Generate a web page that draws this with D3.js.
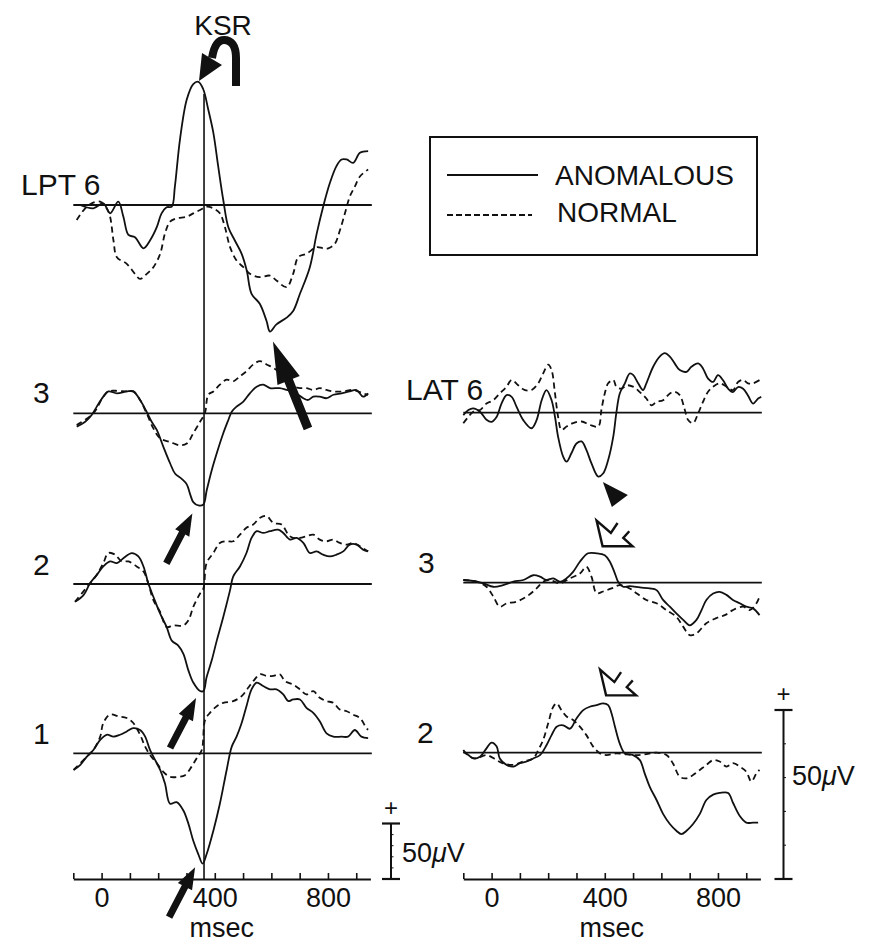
<!DOCTYPE html>
<html>
<head>
<meta charset="utf-8">
<script src="https://cdn.jsdelivr.net/npm/d3@7"></script>
<style>
  html, body { margin: 0; padding: 0; background: #fff; }
  svg { display: block; }
  text { font-family: "Liberation Sans", Arial, Helvetica, sans-serif; fill: #111; }
</style>
</head>
<body>
<svg id="chart" width="869" height="944"></svg>
<script>
// ---- data: [time (msec), amplitude (microvolts)] ----
const timeDomain = [-100, 950];
const tickTimes = [-100, 0, 100, 200, 300, 400, 500, 600, 700, 800, 900];
const tickLabels = [0, 400, 800];
const ksrTime = 362;
const scaleBarMicrovolts = 50;

const lpt6Anomalous = [[-76,0],[-29,-3],[6,1.5],[30,-7.5],[59,3],[77,-10.6],[95,-27],[118,-29],[148,-39],[171,-32],[195,-20],[212,-7.5],[230,-2],[248,-1.5],[259,16.6],[277,59],[301,95],[324,109],[342,111],[359,104.5],[377,86],[395,65],[412,35],[430,4.5],[448,-20],[471,-32],[495,-44],[513,-59],[530,-80],[559,-89],[583,-104.5],[595,-114],[618,-107.5],[654,-101.5],[677,-95.5],[701,-80],[736,-56],[760,-26],[783,-1.5],[807,20],[830,35],[848,41],[866,41],[889,38],[913,47],[942,48.5]];
const lpt6Normal = [[-88,-13.6],[-58,-3],[-35,1.5],[-5,3],[18,-3],[30,-10.6],[42,-32],[54,-47],[89,-53],[118,-62],[136,-66.6],[160,-62],[183,-56],[207,-44],[224,-25.7],[242,-15],[265,-12],[301,-10.6],[324,-7.5],[348,-4.5],[371,-1.5],[395,-3],[418,-7.5],[436,-20],[454,-38],[477,-50],[501,-56],[524,-62],[559,-65],[595,-63.6],[618,-68],[654,-74],[677,-62],[695,-47],[724,-44],[760,-38],[783,-39],[801,-39],[824,-35],[842,-23],[860,-7.5],[877,7.5],[895,16.6],[913,25.7],[942,32]];

const l3Anomalous = [[-88,-12],[-58,-7.6],[-35,-1.5],[-17,6],[6,15],[24,19.7],[54,18],[89,19.7],[112,19.7],[136,12],[159,1.5],[177,-7.6],[195,-15],[218,-30],[242,-45],[260,-54.5],[283,-59],[301,-64],[313,-73],[324,-80],[342,-83],[360,-82],[371,-70],[389,-51.5],[407,-36],[430,-18],[448,-6],[460,1.5],[477,6],[501,10.6],[524,18],[548,24],[571,25.8],[595,22.7],[630,22.7],[654,21],[677,19.7],[695,16.7],[713,13.6],[730,12],[748,15],[771,15],[795,13.6],[819,16.7],[848,18],[877,19.7],[901,21],[924,15],[942,18]];
const l3Normal = [[-88,-10.6],[-29,0],[6,15],[24,19.7],[48,20.3],[89,19.7],[112,19.7],[136,12],[159,0],[183,-13.6],[207,-22.7],[242,-25.8],[277,-28.8],[301,-27.3],[324,-18],[348,-7.6],[365,0],[377,16.7],[395,19.7],[418,25.8],[442,30.3],[465,28.8],[489,33.3],[512,37.9],[536,44],[560,47],[583,44],[607,41],[630,36.4],[654,27.3],[677,24.2],[701,22.7],[724,22.7],[748,21],[771,22.7],[795,21],[819,19.7],[854,19.7],[889,21],[924,18],[942,16.7]];

const l2Anomalous = [[-94,-16],[-64,-10],[-41,0.6],[-17,8.2],[6,15.8],[30,20.3],[54,18.8],[77,23.3],[107,27.9],[130,24.8],[148,15.8],[165,0.6],[183,-11.5],[207,-26.7],[230,-38.8],[248,-51],[271,-55.5],[289,-63],[307,-78],[324,-88.8],[348,-96.4],[360,-96.4],[371,-84],[389,-69],[407,-51],[430,-29.7],[454,-5.5],[465,6.7],[489,15.8],[512,27.9],[530,41.5],[548,47.6],[571,46],[595,47.6],[624,49],[642,46],[666,40],[689,41.5],[713,37],[736,27.9],[760,29.4],[783,26.4],[807,24.8],[830,26.4],[854,29.4],[877,35.5],[901,35.5],[924,31],[942,29.4]];
const l2Normal = [[-94,-16],[-41,0.6],[-17,8.2],[6,18.8],[24,27.9],[48,26.4],[71,20.3],[95,20.3],[124,15.8],[148,11.2],[165,0.6],[183,-14.5],[207,-25.2],[230,-38.8],[254,-37.3],[289,-37.3],[307,-32.7],[324,-20.6],[348,-8.5],[360,-3.9],[371,18.8],[395,27.9],[418,37],[442,38.5],[465,38.5],[489,44.5],[512,50.6],[536,53.6],[560,59.7],[583,61.2],[607,55],[636,53.6],[660,44.5],[677,41.5],[701,41.5],[724,43],[748,44.5],[771,40],[795,38.5],[819,40],[842,37],[866,35.5],[889,37],[913,34],[942,29.4]];

const l1Anomalous = [[-99,-15],[-76,-10.6],[-52,-3],[-29,3],[-5,12],[18,16.7],[42,15],[65,16.7],[89,19.7],[112,22.7],[136,21],[154,15],[171,3],[189,-6],[207,-15],[224,-27.3],[242,-45.5],[265,-44],[289,-51.5],[307,-63.6],[324,-78.8],[342,-91],[357,-99.4],[371,-91],[395,-69.7],[418,-45.5],[442,-15],[460,6],[477,15],[495,27.3],[512,42.4],[530,57.6],[548,63.6],[571,60.6],[595,57.6],[618,57.6],[642,53],[660,47],[677,48.5],[701,48.5],[724,41],[748,36.4],[771,28.8],[795,18],[819,15],[848,15],[871,15],[895,21],[918,15],[942,13.6]];
const l1Normal = [[-99,-15],[-52,-3],[-29,3],[-5,15],[6,27.3],[30,35],[59,33.3],[89,31.8],[112,27.3],[136,16.7],[154,6],[171,-1.5],[195,-9],[218,-16.7],[242,-21.2],[271,-21.2],[295,-19.7],[318,-12],[336,-4.5],[354,3],[366,30.3],[383,36.4],[407,42.4],[430,45.5],[465,47],[495,51.5],[518,59],[536,65],[560,71.2],[583,69.7],[607,69.7],[630,71.2],[648,65],[677,62],[701,57.6],[724,53],[748,56],[771,50],[795,47],[819,45.5],[842,39.4],[866,37.9],[889,34.8],[913,31.8],[936,22.7],[942,21.2]];

const lat6Anomalous = [[-100,-0.7],[-82,0.8],[-65,1.3],[-41,0.3],[-18,-2.1],[0,-2.7],[18,-1.2],[35,2.7],[53,5.2],[71,4.7],[88,1.8],[112,-2.2],[141,-4.6],[159,-2.2],[177,3.7],[194,6.7],[212,3.7],[224,-1.2],[235,-7.1],[253,-13],[265,-14.5],[282,-12],[300,-9.1],[318,-8.5],[335,-11],[353,-15],[377,-18.9],[394,-18],[412,-14],[430,-7.1],[441,0],[453,5.7],[471,8.7],[488,11.6],[500,11.2],[518,8.7],[535,6.7],[547,8.7],[571,13.6],[594,16.6],[612,17.6],[630,16.6],[647,14.6],[665,12.6],[689,12.1],[706,13.6],[730,14.6],[747,13.1],[765,10.1],[783,9.1],[800,11.1],[818,9.6],[836,7.1],[853,6.1],[871,7.6],[889,7.1],[906,5.1],[924,2.7],[942,4.2],[953,4.7]];
const lat6Normal = [[-100,-3.1],[-82,-1.2],[-65,0.3],[-41,0.8],[-18,2.7],[6,3.7],[29,5.7],[53,7.7],[71,9.7],[94,8.1],[118,6.7],[141,6.7],[165,8.7],[182,11.6],[200,14.2],[212,12.6],[224,5.7],[235,-1.2],[247,-5.1],[265,-4.1],[288,-3.1],[318,-2.6],[347,-3.6],[377,-4.1],[388,0.8],[400,5.7],[412,8.7],[430,9.7],[441,7.7],[459,7.1],[477,8.1],[500,7.7],[524,6.1],[547,4.2],[565,2.2],[583,3.2],[606,3.7],[630,5.7],[647,6.2],[665,5.2],[683,0.8],[694,-2.1],[712,-3.1],[730,-0.2],[747,3.2],[765,6.2],[783,7.7],[806,8.7],[830,7.7],[853,6.7],[871,9.1],[889,9.7],[906,8.7],[924,8.7],[948,9.7]];

const r3Anomalous = [[-100,0.8],[-65,0.5],[-29,-0.2],[6,-1.2],[41,-0.7],[77,0.3],[112,0.8],[147,2.2],[171,1.8],[194,0.8],[218,1.3],[241,0.3],[265,1.3],[288,3.2],[312,6.2],[341,8.7],[371,8.7],[400,8.1],[418,6.2],[436,2.7],[447,0.3],[465,-1.2],[488,-1],[524,-1.4],[559,-1.7],[583,-2.2],[606,-5.1],[630,-7.1],[653,-9.1],[677,-11],[700,-12.6],[724,-11],[742,-8.1],[759,-5.1],[783,-3.2],[806,-2.7],[830,-3.6],[853,-5.1],[877,-6.1],[900,-7.1],[924,-7.6],[947,-9.6]];
const r3Normal = [[-100,0.8],[-53,0.3],[-18,-1.2],[6,-4.1],[29,-7.1],[53,-6.1],[88,-5.6],[124,-4.1],[159,-1.7],[182,0.3],[206,0.8],[241,-0.2],[277,1.3],[312,2.7],[335,4.7],[353,1.8],[371,-3.1],[394,-2.6],[424,-1.7],[453,-0.7],[488,-1.7],[512,-3.1],[547,-5.1],[583,-6.1],[618,-8.1],[653,-10.1],[677,-13],[700,-15.5],[724,-15],[759,-12],[794,-10.5],[824,-9.6],[853,-8.1],[889,-7.1],[912,-8.1],[936,-6.1],[947,-4.1]];

const r2Anomalous = [[-100,0.3],[-82,-0.7],[-65,-1.7],[-41,-1.2],[-18,1.3],[0,3],[18,1.8],[29,-1.7],[53,-3.6],[77,-4.1],[100,-3.1],[124,-2.6],[147,-1.7],[171,-0.7],[194,2.2],[212,5.2],[230,7.7],[253,8.1],[277,7.1],[300,10.1],[324,12.6],[347,13.6],[371,14.1],[394,14.6],[412,14.1],[424,11.6],[436,7.7],[453,2.7],[471,-0.2],[500,-0.7],[524,-2.2],[541,-6.1],[559,-10.1],[583,-14],[606,-18.1],[630,-21.1],[653,-23.1],[671,-24.1],[689,-23.1],[712,-21.1],[736,-18.1],[759,-14],[783,-12.4],[806,-11.9],[836,-11.9],[853,-14.8],[877,-18.7],[900,-20.7],[924,-20.7],[942,-20.7]];
const r2Normal = [[-100,0.8],[-77,-1.2],[-53,-1.7],[-18,-0.7],[18,-2.2],[41,-3.2],[77,-3.6],[112,-2.6],[147,-1.7],[165,0.8],[182,3.7],[200,8.7],[218,13.6],[230,14.6],[247,12.6],[265,10.7],[288,9.7],[312,7.7],[335,5.2],[359,1.8],[383,-0.2],[406,-0.7],[441,-0.2],[477,-0.5],[512,-0.7],[547,-0.4],[583,0],[618,-0.7],[641,-3.2],[665,-7.1],[689,-7.6],[712,-6.6],[736,-5.1],[759,-3.6],[783,-2.2],[806,-2.6],[830,-4.1],[853,-3.1],[877,-4.1],[900,-5.6],[918,-8.5],[936,-6.1],[947,-5.1]];

const legendLabels = ["ANOMALOUS", "NORMAL"];

// ---- layout ----
const ink = "#111";
const axisY = 879;
const columns = {
  left:  { range: [73.3, 370.4], barPx: 55.5, barX: 391 },
  right: { range: [463.3, 760.4], barPx: 169, barX: 783.5 }
};
const panels = [
  { label: "LPT 6", col: "left",  base: 205,   labelX: 21,  labelY: 195, anomalous: lpt6Anomalous, normal: lpt6Normal },
  { label: "3",     col: "left",  base: 413.3, labelX: 33,  labelY: 403, anomalous: l3Anomalous,   normal: l3Normal },
  { label: "2",     col: "left",  base: 584,   labelX: 33,  labelY: 575, anomalous: l2Anomalous,   normal: l2Normal },
  { label: "1",     col: "left",  base: 753.3, labelX: 33,  labelY: 744, anomalous: l1Anomalous,   normal: l1Normal },
  { label: "LAT 6", col: "right", base: 412.7, labelX: 406, labelY: 400, anomalous: lat6Anomalous, normal: lat6Normal },
  { label: "3",     col: "right", base: 582.7, labelX: 418, labelY: 573, anomalous: r3Anomalous,   normal: r3Normal },
  { label: "2",     col: "right", base: 752.7, labelX: 417, labelY: 743, anomalous: r2Anomalous,   normal: r2Normal }
];

const svg = d3.select("#chart");

Object.values(columns).forEach(c => {
  c.x = d3.scaleLinear().domain(timeDomain).range(c.range);
});
panels.forEach(p => {
  const c = columns[p.col];
  p.x = c.x;
  p.y = d3.scaleLinear().domain([0, scaleBarMicrovolts]).range([p.base, p.base - c.barPx]);
});

// ---- baselines and waveforms ----
panels.forEach(p => {
  const g = svg.append("g");
  g.append("line")
    .attr("x1", p.x(-100)).attr("x2", p.x(955))
    .attr("y1", p.y(0)).attr("y2", p.y(0))
    .attr("stroke", ink).attr("stroke-width", 1.8);

  const line = d3.line()
    .x(d => p.x(d[0])).y(d => p.y(d[1]))
    .curve(d3.curveCatmullRom.alpha(0.5));

  g.append("path").datum(p.normal)
    .attr("d", line).attr("fill", "none")
    .attr("stroke", ink).attr("stroke-width", 1.8)
    .attr("stroke-dasharray", "6,4");
  g.append("path").datum(p.anomalous)
    .attr("d", line).attr("fill", "none")
    .attr("stroke", ink).attr("stroke-width", 1.8);

  g.append("text")
    .attr("x", p.labelX).attr("y", p.labelY)
    .attr("font-size", 30)
    .text(p.label);
});

// ---- KSR latency marker ----
const xl = columns.left.x;
svg.append("line")
  .attr("x1", xl(ksrTime)).attr("x2", xl(ksrTime))
  .attr("y1", 94).attr("y2", axisY)
  .attr("stroke", ink).attr("stroke-width", 1.6);

// ---- time axes ----
Object.values(columns).forEach(c => {
  const axis = d3.axisBottom(c.x)
    .tickValues(tickTimes)
    .tickSizeInner(-6).tickSizeOuter(0)
    .tickFormat(d => tickLabels.includes(d) ? d : "");
  const g = svg.append("g").attr("transform", `translate(0,${axisY})`).call(axis);
  g.select(".domain").attr("stroke", ink).attr("stroke-width", 2.2);
  g.selectAll(".tick line").attr("stroke", ink).attr("stroke-width", 1.6);
  g.selectAll(".tick text")
    .attr("y", 28).attr("dy", 0)
    .attr("fill", ink)
    .style("font-family", '"Liberation Sans", Arial, sans-serif')
    .style("font-size", "27px");
  svg.append("text")
    .attr("x", c.x(425)).attr("y", 937)
    .attr("text-anchor", "middle")
    .attr("font-size", 27)
    .text("msec");
});

// ---- 50 microvolt calibration bars ----
Object.values(columns).forEach(c => {
  const bx = c.barX, top = axisY - c.barPx;
  const g = svg.append("g").attr("stroke", ink);
  g.append("line").attr("x1", bx).attr("x2", bx).attr("y1", top).attr("y2", axisY).attr("stroke-width", 2);
  g.append("line").attr("x1", bx - 9).attr("x2", bx + 9).attr("y1", top).attr("y2", top).attr("stroke-width", 2.2);
  g.append("line").attr("x1", bx - 9).attr("x2", bx + 9).attr("y1", axisY).attr("y2", axisY).attr("stroke-width", 2.2);
  d3.range(1, 5).forEach(i => {
    const yy = top + c.barPx * i / 5;
    g.append("line").attr("x1", bx).attr("x2", bx + 2.5).attr("y1", yy).attr("y2", yy).attr("stroke-width", 1);
  });
  svg.append("text")
    .attr("x", bx).attr("y", top - 8)
    .attr("text-anchor", "middle")
    .attr("font-size", 24)
    .text("+");
});
function microvoltLabel(x, y) {
  const t = svg.append("text").attr("x", x).attr("y", y).attr("font-size", 27);
  t.append("tspan").text("50");
  t.append("tspan").attr("font-style", "italic").text("\u03bc");
  t.append("tspan").text("V");
}
microvoltLabel(402, 862);
microvoltLabel(792, 785);

// ---- legend ----
const lg = svg.append("g");
lg.append("rect")
  .attr("x", 430).attr("y", 137).attr("width", 327).attr("height", 118)
  .attr("fill", "none").attr("stroke", ink).attr("stroke-width", 2);
lg.append("line").attr("x1", 447).attr("x2", 538).attr("y1", 175).attr("y2", 175)
  .attr("stroke", ink).attr("stroke-width", 1.8);
lg.append("line").attr("x1", 447).attr("x2", 532).attr("y1", 215).attr("y2", 215)
  .attr("stroke", ink).attr("stroke-width", 1.8).attr("stroke-dasharray", "6,3");
lg.append("text").attr("x", 555).attr("y", 185).attr("font-size", 28).text(legendLabels[0]);
lg.append("text").attr("x", 557).attr("y", 222).attr("font-size", 28).text(legendLabels[1]);

// ---- annotation arrows (anchored to waveform extrema) ----
function blockArrow(tip, tail, shaftW, headL, headW) {
  const dx = tip[0] - tail[0], dy = tip[1] - tail[1];
  const len = Math.hypot(dx, dy);
  const ux = dx / len, uy = dy / len, nx = -uy, ny = ux;
  const bx = tip[0] - ux * headL, by = tip[1] - uy * headL;
  const pts = [
    [tail[0] + nx * shaftW / 2, tail[1] + ny * shaftW / 2],
    [bx + nx * shaftW / 2, by + ny * shaftW / 2],
    [bx + nx * headW / 2, by + ny * headW / 2],
    tip,
    [bx - nx * headW / 2, by - ny * headW / 2],
    [bx - nx * shaftW / 2, by - ny * shaftW / 2],
    [tail[0] - nx * shaftW / 2, tail[1] - ny * shaftW / 2]
  ];
  svg.append("path").attr("d", "M" + pts.map(p => p.join(",")).join("L") + "Z").attr("fill", ink);
}
const P = i => panels[i];
const at = (p, t, v) => [p.x(t), p.y(v)];

// large arrow at the LPT 6 negativity
{
  const a = at(P(0), 595, -114);
  const tip = [a[0] + 3, a[1] + 10];
  blockArrow(tip, [tip[0] + 35, tip[1] + 87], 9, 42, 24);
}
// arrows at the KSR-locked minima of channels 3, 2, 1
[[1, 342, -83, -6, 8], [2, 355, -96.4, -6, 7], [3, 357, -99.4, -7.5, 3.5]].forEach(([i, t, v, ox, oy]) => {
  const a = at(P(i), t, v);
  const tip = [a[0] + ox, a[1] + oy];
  blockArrow(tip, [tip[0] - 26, tip[1] + 50], 7, 22, 16);
});

// filled pointer under the LAT 6 minimum
{
  const a = at(P(4), 377, -18.9);
  const tri = [[a[0] + 4.6, a[1] + 5.4], [a[0] + 29.6, a[1] + 18.4], [a[0] + 13.6, a[1] + 30.4]];
  svg.append("path").attr("d", "M" + tri.map(p => p.join(",")).join("L") + "Z").attr("fill", ink);
}

// open arrowheads above the LAT 3 / LAT 2 positivities
function openArrow(tip) {
  const rel = [[15, -23.3], [8.3, -13.3], [-6, -25.7], [0, 0], [30, 0], [20.7, -8.3], [26.7, -15]];
  const pts = rel.map(r => [tip[0] + r[0], tip[1] + r[1]]);
  svg.append("path")
    .attr("d", "M" + pts.map(p => p.join(",")).join("L"))
    .attr("fill", "none").attr("stroke", ink).attr("stroke-width", 2.4)
    .attr("stroke-linejoin", "miter");
}
{
  const a = at(P(5), 371, 8.7);
  openArrow([a[0] + 6, a[1] - 7]);
  const b = at(P(6), 394, 14.6);
  openArrow([b[0] + 3, b[1] - 8]);
}

// ---- KSR curved arrow ----
svg.append("path")
  .attr("d", "M236,86 L236,58 C236,45 231,40 224,40 C218,40 214,46 212,58")
  .attr("fill", "none").attr("stroke", ink).attr("stroke-width", 8);
svg.append("path")
  .attr("d", "M199,81 L202,53 L222,65 Z")
  .attr("fill", ink);
svg.append("text")
  .attr("x", 223).attr("y", 35)
  .attr("text-anchor", "middle")
  .attr("font-size", 28)
  .text("KSR");
</script>
</body>
</html>
